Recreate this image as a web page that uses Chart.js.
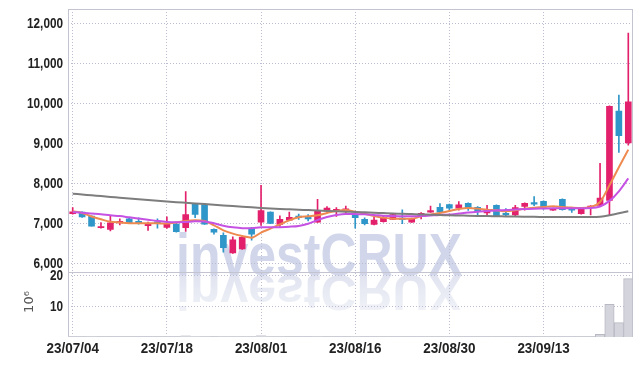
<!DOCTYPE html>
<html>
<head>
<meta charset="utf-8">
<script src="https://cdn.jsdelivr.net/npm/chart.js@4.4.0/dist/chart.umd.min.js"></script>
<style>
  html, body { margin: 0; padding: 0; background: #fff; }
  #wrap { width: 642px; height: 366px; }
</style>
</head>
<body>
<div id="wrap"><canvas id="chart" width="642" height="366"></canvas></div>
<script>
'use strict';

// ===== DONNÉES =====
const dates = [
  '23/07/04','23/07/05','23/07/06','23/07/07','23/07/10','23/07/11','23/07/12','23/07/13','23/07/14','23/07/17',
  '23/07/18','23/07/19','23/07/20','23/07/21','23/07/24','23/07/25','23/07/26','23/07/27','23/07/28','23/07/31',
  '23/08/01','23/08/02','23/08/03','23/08/04','23/08/07','23/08/08','23/08/09','23/08/10','23/08/11','23/08/14',
  '23/08/16','23/08/17','23/08/18','23/08/21','23/08/22','23/08/23','23/08/24','23/08/25','23/08/28','23/08/29',
  '23/08/30','23/08/31','23/09/01','23/09/04','23/09/05','23/09/06','23/09/07','23/09/08','23/09/11','23/09/12',
  '23/09/13','23/09/14','23/09/15','23/09/18','23/09/19','23/09/20','23/09/21','23/09/22','23/09/25','23/09/26'
];
const opens = [
  7240, 7280, 7180, 6890, 6850, 7010, 7110, 7050, 6940, 7040,
  6900, 6980, 6890, 7490, 7460, 6850, 6700, 6260, 6360, 6880,
  7030, 7280, 6970, 7080, 7180, 7170, 7030, 7320, 7300, 7300,
  7230, 7100, 6970, 7040, 7100, 7130, 7030, 7180, 7280, 7400,
  7470, 7380, 7500, 7400, 7260, 7450, 7250, 7210, 7420, 7520,
  7550, 7330, 7600, 7380, 7240, 7390, 7450, 7570, 9800, 9010
];
const highs = [
  7390, 7290, 7190, 7020, 7180, 7110, 7130, 7140, 7030, 7110,
  7160, 7000, 7790, 7500, 7470, 6860, 6760, 6660, 6670, 6900,
  7950, 7290, 7190, 7280, 7230, 7220, 7600, 7420, 7390, 7430,
  7250, 7140, 7150, 7180, 7230, 7340, 7130, 7270, 7430, 7490,
  7480, 7540, 7510, 7420, 7450, 7460, 7370, 7450, 7510, 7670,
  7560, 7380, 7610, 7390, 7400, 7440, 8500, 9930, 10200, 11750
];
const lows = [
  7230, 7150, 6930, 6880, 6810, 6960, 7000, 6980, 6820, 6880,
  6870, 6780, 6800, 7140, 6970, 6730, 6280, 6250, 6350, 6580,
  6950, 6990, 6920, 7070, 7100, 7060, 7020, 7280, 7170, 7220,
  6880, 6960, 6960, 7030, 7090, 6990, 7020, 7110, 7270, 7270,
  7320, 7330, 7320, 7200, 7200, 7170, 7170, 7170, 7330, 7440,
  7350, 7320, 7330, 7270, 7230, 7210, 7430, 7210, 8770, 8950
];
const closes = [
  7290, 7160, 6930, 6920, 7010, 7050, 7010, 6990, 7000, 7000,
  7000, 6790, 7220, 7225, 6980, 6780, 6390, 6590, 6650, 6730,
  7320, 7000, 7100, 7150, 7140, 7110, 7320, 7380, 7350, 7360,
  7140, 6990, 7080, 7150, 7220, 7090, 7120, 7250, 7320, 7280,
  7380, 7460, 7380, 7290, 7330, 7180, 7210, 7390, 7500, 7480,
  7410, 7360, 7340, 7330, 7400, 7430, 7630, 9920, 9190, 10030
];
// volume en millions
const volumes = [
  0.08, 0.06, 0.10, 0.05, 0.09, 0.05, 0.05, 0.06, 0.07, 0.05,
  0.08, 0.09, 0.35, 0.20, 0.15, 0.08, 0.15, 0.12, 0.10, 0.10,
  0.50, 0.15, 0.10, 0.08, 0.06, 0.06, 0.15, 0.08, 0.07, 0.07,
  0.10, 0.07, 0.06, 0.06, 0.06, 0.08, 0.05, 0.06, 0.07, 0.06,
  0.07, 0.08, 0.07, 0.06, 0.06, 0.08, 0.05, 0.07, 0.06, 0.08,
  0.06, 0.05, 0.08, 0.05, 0.06, 0.07, 0.90, 10.65, 4.7, 19.0
];
// moyennes mobiles
const maShort = [
  7300, 7260, 7170, 7100, 7040, 7020, 7005, 7005, 7005, 7000,
  6995, 7020, 7058, 7075, 7060, 6950, 6825, 6742, 6683, 6642,
  6770, 6867, 6975, 7075, 7150, 7175, 7200, 7260, 7310, 7330,
  7290, 7240, 7183, 7142, 7117, 7117, 7117, 7175, 7217, 7258,
  7308, 7358, 7383, 7367, 7342, 7325, 7300, 7325, 7367, 7392,
  7408, 7425, 7408, 7392, 7383, 7408, 7533, 7950, 8400, 8840
];
const maMid = [
  7280, 7265, 7245, 7225, 7200, 7180, 7150, 7120, 7090, 7060,
  7035, 7025, 7035, 7050, 7045, 7000, 6940, 6900, 6880, 6880,
  6900, 6900, 6905, 6915, 6935, 6990, 7080, 7160, 7210, 7235,
  7230, 7225, 7210, 7190, 7180, 7175, 7175, 7180, 7195, 7210,
  7220, 7245, 7270, 7290, 7305, 7320, 7335, 7345, 7355, 7365,
  7370, 7375, 7375, 7375, 7375, 7380, 7420, 7560, 7800, 8120
];
const maLong = [
  7740, 7720, 7700, 7680, 7660, 7640, 7620, 7600, 7580, 7562,
  7545, 7528, 7512, 7496, 7480, 7464, 7448, 7430, 7415, 7400,
  7385, 7372, 7360, 7350, 7340, 7330, 7320, 7310, 7300, 7292,
  7285, 7275, 7265, 7255, 7245, 7238, 7230, 7222, 7215, 7208,
  7200, 7195, 7190, 7185, 7180, 7176, 7172, 7168, 7165, 7162,
  7160, 7158, 7156, 7155, 7155, 7156, 7165, 7200, 7250, 7300
];
const priceTicks = [6000, 7000, 8000, 9000, 10000, 11000, 12000];
const volumeTicks = [10, 20];

// ===== STYLES =====
const UP = '#e3206b';
const DOWN = '#2e96c8';
const GRID = '#bcbcd0';
const LABEL_FONT = 'bold 14px "Liberation Sans", Arial, sans-serif';

const candleColors = dates.map(function(d, i) { return closes[i] >= opens[i] ? UP : DOWN; });
const wicks = dates.map(function(d, i) { return [lows[i], highs[i]]; });
const bodies = dates.map(function(d, i) { return [opens[i], closes[i]]; });

function drawLabel(ctx, txt, x, y, align, sx) {
  ctx.save();
  ctx.translate(x, y);
  ctx.scale(sx, 1);
  ctx.textAlign = align;
  ctx.textBaseline = 'middle';
  ctx.fillText(txt, 0, 0);
  ctx.restore();
}

// ===== FILIGRANE investCRUX + reflet =====
const watermark = {
  id: 'watermark',
  beforeDraw: function(chart) {
    const ctx = chart.ctx;
    const text = 'investCRUX';
    const left = 176, right = 462, base = 275;
    ctx.save();
    ctx.font = 'bold 59px "Liberation Sans", sans-serif';
    const sx = (right - left) / ctx.measureText(text).width;
    ctx.textBaseline = 'alphabetic';
    ctx.translate(left, base);
    ctx.scale(sx, 1);
    ctx.fillStyle = '#d1d6ea';
    ctx.fillText(text, 0, 0);
    // reflet
    ctx.scale(1, -0.86);
    const g = ctx.createLinearGradient(0, 0, 0, -44);
    g.addColorStop(0, 'rgba(200,206,228,0.55)');
    g.addColorStop(1, 'rgba(200,206,228,0.25)');
    ctx.fillStyle = g;
    ctx.fillText(text, 0, 0);
    ctx.restore();
  }
};

// ===== CADRE + ÉTIQUETTES DES AXES =====
const frame = {
  id: 'frame',
  beforeDatasetsDraw: function(chart) {
    const ctx = chart.ctx;
    const a = chart.chartArea;
    ctx.save();
    ctx.strokeStyle = '#c4c4d0';
    ctx.lineWidth = 1;
    ctx.strokeRect(a.left + 0.5, a.top + 0.5, a.right - a.left - 1, a.bottom - a.top - 1);
    const yb = Math.round(chart.scales.y.bottom) + 0.5;
    ctx.beginPath();
    ctx.moveTo(a.left, yb);
    ctx.lineTo(a.right, yb);
    ctx.stroke();
    ctx.restore();
  },
  afterDraw: function(chart) {
    const ctx = chart.ctx;
    const sc = chart.scales;
    ctx.save();
    ctx.fillStyle = '#222';
    ctx.font = LABEL_FONT;
    priceTicks.forEach(function(v) {
      drawLabel(ctx, v.toLocaleString('en-US'), 63, sc.y.getPixelForValue(v) + 0.7, 'right', 0.84);
    });
    volumeTicks.forEach(function(v) {
      drawLabel(ctx, String(v), 63, sc.y2.getPixelForValue(v) + 1, 'right', 0.84);
    });
    dates.forEach(function(d, i) {
      if (i % 10 === 0) drawLabel(ctx, d, sc.x.getPixelForValue(i), 349, 'center', 0.96);
    });
    // unité du volume
    ctx.translate(30, 302);
    ctx.rotate(-Math.PI / 2);
    ctx.fillStyle = '#555';
    ctx.font = '13px "DejaVu Sans", sans-serif';
    ctx.textAlign = 'center';
    ctx.textBaseline = 'middle';
    ctx.fillText('10\u2076', 0, 0);
    ctx.restore();
  }
};

new Chart(document.getElementById('chart'), {
  type: 'bar',
  data: {
    labels: dates,
    datasets: [
      { type: 'line', data: maLong, borderColor: '#7d7d7d', borderWidth: 2, pointRadius: 0, cubicInterpolationMode: 'monotone', yAxisID: 'y', order: 0 },
      { type: 'line', data: maMid, borderColor: '#c652e4', borderWidth: 2, pointRadius: 0, cubicInterpolationMode: 'monotone', yAxisID: 'y', order: 0 },
      { type: 'line', data: maShort, borderColor: '#ee8a50', borderWidth: 2, pointRadius: 0, cubicInterpolationMode: 'monotone', yAxisID: 'y', order: 0 },
      { type: 'bar', data: bodies, backgroundColor: candleColors, barThickness: 6, minBarLength: 1, grouped: false, yAxisID: 'y', order: 1 },
      { type: 'bar', data: wicks, backgroundColor: candleColors, barThickness: 1, grouped: false, yAxisID: 'y', order: 2 },
      { type: 'bar', data: volumes, backgroundColor: '#d4d4dc', borderColor: '#b9b9c4', borderWidth: function(c) { return volumes[c.dataIndex] > 0.5 ? 1 : 0; },
        barPercentage: 1, categoryPercentage: 1, grouped: false, yAxisID: 'y2', order: 3 }
    ]
  },
  options: {
    responsive: false,
    animation: false,
    layout: { padding: { top: 9, right: 9, left: 0, bottom: 0 } },
    plugins: { legend: { display: false }, tooltip: { enabled: false } },
    scales: {
      x: {
        offset: true,
        grid: { offset: false, drawTicks: false, color: function(c) { return c.index % 10 === 0 ? GRID : 'rgba(0,0,0,0)'; } },
        border: { display: false, dash: [1, 2] },
        ticks: { display: false, autoSkip: false, maxRotation: 0 },
        afterFit: function(s) { s.height = 29; }
      },
      y: {
        type: 'linear', position: 'left', stack: 'panes', stackWeight: 262, weight: 1,
        min: 5790, max: 12350,
        afterBuildTicks: function(s) { s.ticks = priceTicks.map(function(v) { return { value: v }; }); },
        afterFit: function(s) { s.width = 68; },
        grid: { color: GRID, drawTicks: false },
        border: { display: false, dash: [1, 2] },
        ticks: { display: false }
      },
      y2: {
        type: 'linear', position: 'left', stack: 'panes', stackWeight: 65, weight: 0,
        min: 0, max: 21.2,
        afterBuildTicks: function(s) { s.ticks = volumeTicks.map(function(v) { return { value: v }; }); },
        afterFit: function(s) { s.width = 68; },
        grid: { color: GRID, drawTicks: false },
        border: { display: false, dash: [1, 2] },
        ticks: { display: false }
      }
    }
  },
  plugins: [watermark, frame]
});
</script>
</body>
</html>
